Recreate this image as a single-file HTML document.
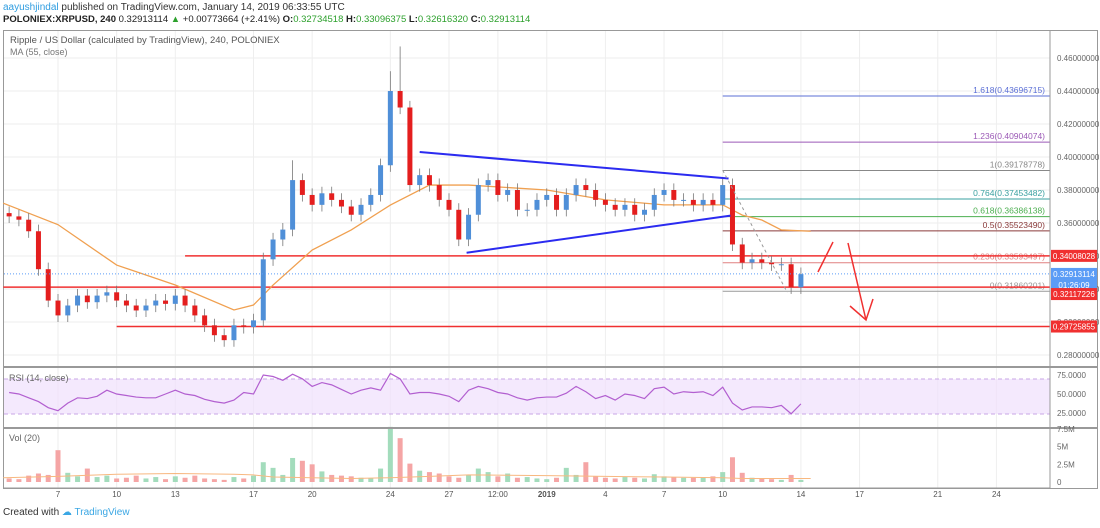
<!DOCTYPE html>
<html><head><meta charset="utf-8"><style>
body{margin:0;background:#fff;font-family:"Liberation Sans",sans-serif}
svg text{font-family:"Liberation Sans",sans-serif}
</style></head><body>
<svg id="c" width="1100" height="523" viewBox="0 0 1100 523">
<text x="3" y="10" font-size="10" fill="#333"><tspan fill="#2f9de0">aayushjindal</tspan> published on TradingView.com, January 14, 2019 06:33:55 UTC</text>
<text x="3" y="22" font-size="9.5" fill="#222"><tspan font-weight="bold">POLONIEX:XRPUSD, 240</tspan> 0.32913114 <tspan fill="#2ca02c">▲</tspan> +0.00773664 (+2.41%) <tspan font-weight="bold">O:</tspan><tspan fill="#2ca02c">0.32734518</tspan> <tspan font-weight="bold">H:</tspan><tspan fill="#2ca02c">0.33096375</tspan> <tspan font-weight="bold">L:</tspan><tspan fill="#2ca02c">0.32616320</tspan> <tspan font-weight="bold">C:</tspan><tspan fill="#2ca02c">0.32913114</tspan></text>
<rect x="3.5" y="30.5" width="1094" height="458" fill="none" stroke="#999"/>
<g id="grid"></g>
<rect x="4" y="379" width="1046" height="35" fill="#f0e0fc" opacity="0.7"/>
<line x1="4" x2="1050" y1="379" y2="379" stroke="#c9a6e6" stroke-dasharray="4,3"/>
<line x1="4" x2="1050" y1="414" y2="414" stroke="#c9a6e6" stroke-dasharray="4,3"/>
<g id="plot"></g>
<line x1="4" x2="1097" y1="367" y2="367" stroke="#999" stroke-width="2"/>
<line x1="4" x2="1097" y1="428" y2="428" stroke="#999" stroke-width="2"/>
<line x1="1050" x2="1050" y1="31" y2="488" stroke="#999"/>
<line x1="4" x2="1050" y1="488" y2="488" stroke="#999"/>
<text x="10" y="43" font-size="9.5" fill="#555">Ripple / US Dollar (calculated by TradingView), 240, POLONIEX</text>
<text x="10" y="55" font-size="9" fill="#777">MA (55, close)</text>
<text x="9" y="381" font-size="9" fill="#666">RSI (14, close)</text>
<text x="9" y="441" font-size="9" fill="#666">Vol (20)</text>
<text x="3" y="515" font-size="10" fill="#333">Created with <tspan fill="#3ba7e4">☁ TradingView</tspan></text>
<g id="axes"></g>
</svg>
<script>
const closes=[0.364,0.362,0.355,0.332,0.313,0.304,0.31,0.316,0.312,0.316,0.318,0.313,0.31,0.307,0.31,0.313,0.311,0.316,0.31,0.304,0.298,0.292,0.289,0.298,0.297,0.301,0.338,0.35,0.356,0.386,0.377,0.371,0.378,0.374,0.37,0.365,0.371,0.377,0.395,0.44,0.43,0.383,0.389,0.383,0.374,0.368,0.35,0.365,0.383,0.386,0.377,0.38,0.368,0.368,0.374,0.377,0.368,0.377,0.383,0.38,0.374,0.371,0.368,0.371,0.365,0.368,0.377,0.38,0.374,0.374,0.371,0.374,0.371,0.383,0.347,0.336,0.338,0.336,0.335,0.335,0.321,0.329];
const firstOpen=0.366;
const startDay=4.5;
const highOverrides={40:0.467,39:0.452,29:0.398};
const maDays=[4.2,7,10,13,16,17,18,20,22,24,26,28,32,35,38,41,42,43,44,45.5];
const maVals=[0.372,0.359,0.3345,0.3224,0.3073,0.3103,0.3224,0.3436,0.3558,0.3709,0.383,0.383,0.38,0.374,0.371,0.371,0.3648,0.3618,0.3558,0.355];
const rsi=[52,50,45,40,32,28,38,45,44,47,55,50,48,46,45,45,50,55,50,48,43,40,38,42,52,50,75,73,68,76,70,60,65,62,56,50,55,58,55,77,70,50,52,52,50,47,40,55,60,57,52,50,45,42,45,46,46,51,60,53,44,48,42,50,48,44,57,59,50,53,52,53,48,59,38,29,33,33,32,35,24,37];
const vol=[0.5,0.4,0.9,1.2,1.0,4.5,1.3,0.8,1.9,0.7,0.9,0.5,0.6,0.9,0.5,0.7,0.4,0.8,0.6,0.9,0.5,0.4,0.3,0.7,0.5,0.9,2.8,2.0,1.0,3.4,3.0,2.5,1.5,1.0,0.9,0.8,0.6,0.5,1.9,7.8,6.2,2.6,1.6,1.4,1.2,0.8,0.6,1.0,1.9,1.4,0.8,1.2,0.6,0.7,0.5,0.4,0.6,2.0,1.0,2.8,0.8,0.6,0.5,0.7,0.6,0.5,1.1,0.8,0.7,0.6,0.6,0.7,0.8,1.4,3.5,1.3,0.6,0.5,0.4,0.3,1.0,0.3];
const volMA=[0.6,0.8,1.1,1.2,1.1,1.0,0.7,0.6,0.5,0.6,0.8,1.0,0.9,0.8,0.7,0.6,0.5,0.5,0.5,0.5];
const priceTicks=[0.46,0.44,0.42,0.40,0.38,0.36,0.34,0.32,0.30,0.28];
const dayTicks=[7,10,13,17,20,24,27,29.5,32,35,38,41,45,48,52,55];
const dayLabels=["7","10","13","17","20","24","27","12:00","2019","4","7","10","14","17","21","24"];
const fibLevels=[1.618,1.236,1,0.764,0.618,0.5,0.236,0];
const fibPrices=[0.43696715,0.40904074,0.39178778,0.37453482,0.36386138,0.35523490,0.33593497,0.31860201];
const fibColors=["#5b6fd6","#9b59b6","#888","#3aa0a0","#4caf50","#8a3a3a","#e08080","#999"];
const redLevels=[0.34008028,0.32117226,0.29725855];
const redStarts=[13.5,4.2,10];
const rsiTicks=[75,50,25];
const volTicks=[7.5,5,2.5,0];
const volTickLabels=["7.5M","5M","2.5M","0"];

const X=d=>58+(d-7)*19.55;
const Y=p=>58+(0.46-p)*1650;
const RY=v=>394-(v-50)*0.76;
const VY=v=>482-v*7.07;
const NS="http://www.w3.org/2000/svg";
function mk(tag,attrs,parent){const e=document.createElementNS(NS,tag);for(const k in attrs)e.setAttribute(k,attrs[k]);document.getElementById(parent).appendChild(e);return e;}

priceTicks.forEach(p=>{const l=mk('line',{x1:4,x2:1050,y1:Y(p),y2:Y(p),stroke:'#eee'},'grid');


const t=mk('text',{x:1057,y:Y(p)+3,'font-size':8,fill:'#666'},'axes');t.textContent=p.toFixed(8);

});
dayTicks.forEach((d,i)=>{const l=mk('line',{x1:X(d),x2:X(d),y1:31,y2:488,stroke:'#eee'},'grid');


const t=mk('text',{x:X(d),y:497,'font-size':8,fill:'#555','text-anchor':'middle','font-weight':dayLabels[i]=="2019"?'bold':'normal'},'axes');t.textContent=dayLabels[i];

});
rsiTicks.forEach(v=>{const t=mk('text',{x:1057,y:RY(v)+3,'font-size':8,fill:'#666'},'axes');t.textContent=v.toFixed(4);

});
volTicks.forEach((v,i)=>{const t=mk('text',{x:1057,y:VY(v)+3,'font-size':8,fill:'#666'},'axes');t.textContent=volTickLabels[i];

});

fibLevels.forEach((f,i)=>{const y=Y(fibPrices[i]);
const l=mk('line',{x1:X(41),x2:1050,y1:y,y2:y,stroke:fibColors[i],'stroke-width':1},'plot');


const t=mk('text',{x:1045,y:y-3,'font-size':8.5,fill:fibColors[i],'text-anchor':'end'},'plot');t.textContent=f+"("+fibPrices[i].toFixed(8)+")";

});
redLevels.forEach((p,i)=>{const l=mk('line',{x1:X(redStarts[i]),x2:1050,y1:Y(p),y2:Y(p),stroke:'#f03030','stroke-width':1.5},'plot');

});
let d='';maDays.forEach((t,i)=>{d+=(i?'L':'M')+X(t)+','+Y(maVals[i]);});
const ma=mk('path',{d:d,fill:'none',stroke:'#f0a050','stroke-width':1.3},'plot');


closes.forEach((c,i)=>{const o=i?closes[i-1]:firstOpen;const t=startDay+i*0.5;const x=X(t);
const up=c>=o;const hi=highOverrides[i]||Math.max(o,c)+0.004;const lo=Math.min(o,c)-0.004;
const w=mk('line',{x1:x,x2:x,y1:Y(hi),y2:Y(lo),stroke:'#777','stroke-width':0.8},'plot');


const b=mk('rect',{x:x-2.5,y:Y(Math.max(o,c)),width:5,height:Math.max(1,Math.abs(Y(o)-Y(c))),fill:up?'#4f8fd8':'#e41e1e'},'plot');


const v=mk('rect',{x:x-2.5,y:VY(vol[i]),width:5,height:482-VY(vol[i]),fill:up?'#a3dcbc':'#f5a5a5'},'plot');

});
d='';volMA.forEach((v,i)=>{d+=(i?'L':'M')+X(maDays[i])+','+VY(v);});
const vm=mk('path',{d:d,fill:'none',stroke:'#f8b880','stroke-width':1},'plot');


d='';rsi.forEach((v,i)=>{d+=(i?'L':'M')+X(startDay+i*0.5)+','+RY(v);});
const rl=mk('path',{d:d,fill:'none',stroke:'#b25fd0','stroke-width':1.2},'plot');


const tu=mk('line',{x1:X(25.5),y1:Y(0.403),x2:X(41.3),y2:Y(0.387),stroke:'#2b2bf0','stroke-width':2},'plot');


const tl=mk('line',{x1:X(27.9),y1:Y(0.342),x2:X(41.4),y2:Y(0.3645),stroke:'#2b2bf0','stroke-width':2},'plot');


const dl=mk('line',{x1:X(41),y1:Y(0.392),x2:X(44.3),y2:Y(0.318),stroke:'#999','stroke-dasharray':'3,3'},'plot');


const a1=mk('path',{d:'M818,272 L833,242',stroke:'#f03030','stroke-width':1.5,fill:'none'},'plot');


const a2=mk('path',{d:'M848,243 L866,320 M850,306 L866,320 L873,299',stroke:'#f03030','stroke-width':1.5,fill:'none'},'plot');


const boxes=[[Y(0.34008028),'#f03030','0.34008028'],[Y(0.32913114),'#5b9cf6','0.32913114'],[Y(0.32913114)+11,'#5b9cf6','01:26:09'],[Y(0.32117226)+7,'#f03030','0.32117226'],[Y(0.29725855),'#f03030','0.29725855']];
boxes.forEach(b=>{const r=mk('rect',{x:1051,y:b[0]-6,width:46,height:12,fill:b[1]},'axes');


const t=mk('text',{x:1074,y:b[0]+3,'font-size':8,fill:'#fff','text-anchor':'middle'},'axes');t.textContent=b[2];

});
const cl=mk('line',{x1:4,x2:1050,y1:Y(0.32913114),y2:Y(0.32913114),stroke:'#5b9cf6','stroke-dasharray':'1,2'},'plot');


</script>
</body></html>
